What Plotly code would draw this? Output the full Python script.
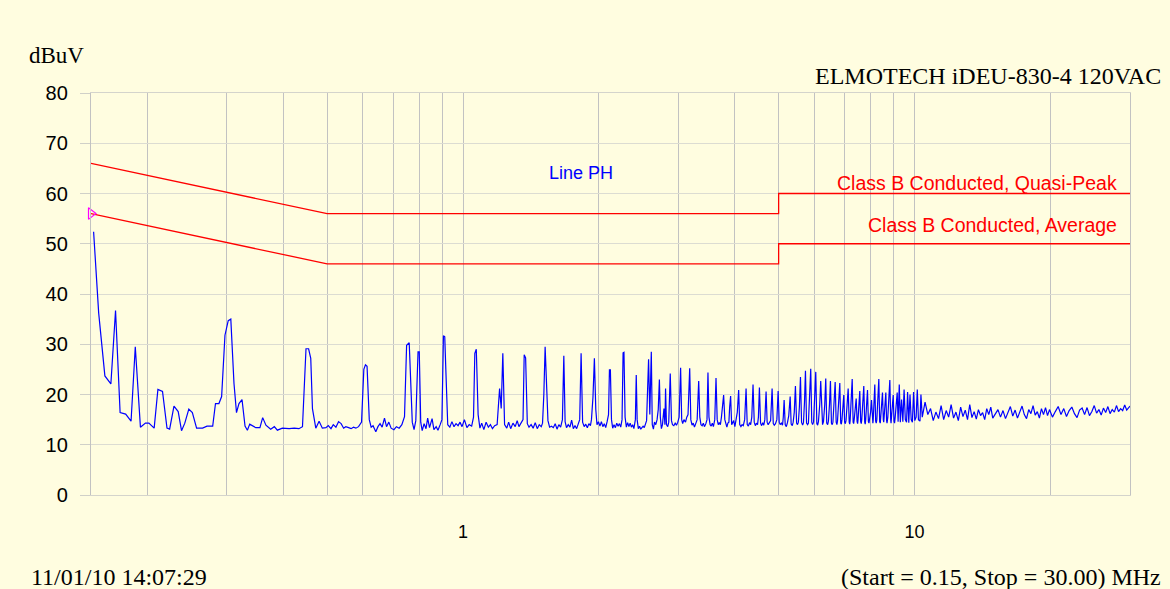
import math
import plotly.graph_objects as go

# ---------------- data ----------------
trace_mhz = [
    0.152, 0.156, 0.161, 0.166, 0.170, 0.174, 0.179, 0.184, 0.188, 0.193,
    0.198, 0.2015, 0.207, 0.211, 0.216, 0.221, 0.224, 0.229, 0.234, 0.238,
    0.242, 0.247, 0.2515, 0.257, 0.265, 0.271, 0.279, 0.283, 0.288, 0.292,
    0.297, 0.302, 0.306, 0.311, 0.315, 0.319, 0.324, 0.329, 0.333, 0.337,
    0.3475, 0.355, 0.360, 0.366, 0.375, 0.382, 0.388, 0.398, 0.412, 0.423,
    0.433, 0.441, 0.449, 0.455, 0.460, 0.464, 0.472, 0.480, 0.488, 0.497,
    0.503, 0.510, 0.516, 0.523, 0.530, 0.537, 0.544, 0.550, 0.558, 0.565,
    0.572, 0.579, 0.587, 0.596, 0.603, 0.608, 0.613, 0.620, 0.626, 0.632,
    0.641, 0.648, 0.655, 0.662, 0.670, 0.677, 0.685, 0.693, 0.703, 0.712,
    0.722, 0.732, 0.742, 0.750, 0.760, 0.767, 0.772, 0.779, 0.786, 0.795,
    0.800, 0.806, 0.812, 0.820, 0.828, 0.835, 0.843, 0.854, 0.862, 0.872,
    0.880, 0.890, 0.898, 0.905, 0.911, 0.916, 0.925, 0.935, 0.945, 0.955,
    0.965, 0.975, 0.985, 0.995, 1.007, 1.020, 1.032, 1.045, 1.055, 1.062,
    1.070, 1.080, 1.090, 1.100, 1.112, 1.125, 1.138, 1.150, 1.162, 1.175,
    1.190, 1.205, 1.215, 1.225, 1.236, 1.250, 1.262, 1.275, 1.290, 1.305,
    1.318, 1.330, 1.345, 1.358, 1.366, 1.376, 1.388, 1.400, 1.415, 1.430,
    1.445, 1.460, 1.475, 1.490, 1.500, 1.510, 1.520, 1.530, 1.542, 1.555,
    1.570, 1.585, 1.600, 1.615, 1.630, 1.645, 1.660, 1.672, 1.683, 1.695,
    1.710, 1.725, 1.740, 1.755, 1.770, 1.785, 1.800, 1.813, 1.826, 1.840,
    1.855, 1.870, 1.885, 1.900, 1.915, 1.925, 1.940, 1.954, 1.968, 1.980,
    1.995, 2.010, 2.025, 2.040, 2.055, 2.070, 2.085, 2.100, 2.110, 2.120,
    2.132, 2.145, 2.160, 2.175, 2.190, 2.205, 2.220, 2.235, 2.250, 2.262,
    2.272, 2.285, 2.300, 2.315, 2.330, 2.345, 2.360, 2.375, 2.390, 2.408,
    2.419, 2.430, 2.445, 2.460, 2.475, 2.490, 2.505, 2.520, 2.535, 2.550,
    2.576, 2.592, 2.612, 2.625, 2.640, 2.655, 2.672, 2.690, 2.706, 2.722,
    2.735, 2.750, 2.765, 2.786, 2.800, 2.809, 2.822, 2.840, 2.855, 2.877,
    2.895, 2.910, 2.930, 2.950, 2.970, 2.990, 3.010, 3.033, 3.050, 3.065,
    3.085, 3.110, 3.130, 3.150, 3.177, 3.195, 3.215, 3.235, 3.255, 3.280,
    3.300, 3.326, 3.345, 3.365, 3.385, 3.405, 3.425, 3.450, 3.470, 3.487,
    3.505, 3.525, 3.545, 3.565, 3.585, 3.610, 3.633, 3.655, 3.675, 3.695,
    3.715, 3.735, 3.755, 3.777, 3.800, 3.820, 3.840, 3.860, 3.880, 3.895,
    3.914, 3.935, 3.955, 3.975, 4.000, 4.020, 4.050, 4.078, 4.100, 4.125,
    4.150, 4.175, 4.205, 4.235, 4.260, 4.285, 4.310, 4.335, 4.360, 4.388,
    4.415, 4.440, 4.465, 4.490, 4.510, 4.533, 4.560, 4.585, 4.610, 4.635,
    4.660, 4.690, 4.715, 4.740, 4.770, 4.800, 4.836, 4.865, 4.890, 4.920,
    4.955, 4.987, 5.015, 5.040, 5.070, 5.100, 5.120, 5.142, 5.170, 5.200,
    5.230, 5.265, 5.303, 5.330, 5.360, 5.385, 5.415, 5.447, 5.480, 5.505,
    5.530, 5.558, 5.589, 5.620, 5.650, 5.675, 5.705, 5.733, 5.765, 5.795,
    5.820, 5.855, 5.889, 5.920, 5.945, 5.975, 6.010, 6.042, 6.075, 6.100,
    6.125, 6.166, 6.197, 6.230, 6.255, 6.285, 6.325, 6.358, 6.390, 6.420,
    6.445, 6.480, 6.512, 6.545, 6.570, 6.595, 6.637, 6.671, 6.705, 6.730,
    6.750, 6.795, 6.830, 6.862, 6.885, 6.906, 6.938, 6.970, 7.000, 7.025,
    7.050, 7.093, 7.128, 7.165, 7.185, 7.200, 7.240, 7.276, 7.310, 7.330,
    7.350, 7.391, 7.425, 7.460, 7.480, 7.495, 7.530, 7.563, 7.598, 7.620,
    7.640, 7.684, 7.719, 7.755, 7.775, 7.795, 7.830, 7.866, 7.902, 7.925,
    7.946, 7.992, 8.029, 8.066, 8.085, 8.100, 8.130, 8.165, 8.200, 8.225,
    8.250, 8.300, 8.334, 8.370, 8.395, 8.415, 8.458, 8.491, 8.527, 8.545,
    8.562, 8.602, 8.637, 8.671, 8.690, 8.725, 8.773, 8.815, 8.854, 8.870,
    8.890, 8.932, 8.969, 9.004, 9.030, 9.060, 9.110, 9.153, 9.195, 9.250,
    9.300, 9.360, 9.420, 9.480, 9.540, 9.600, 9.650, 9.710, 9.770, 9.830,
    9.890, 9.950, 10.01, 10.08, 10.14, 10.20, 10.28, 10.33, 10.40, 10.55,
    10.70, 10.85, 11.00, 11.15, 11.30, 11.45, 11.60, 11.75, 11.90, 12.05,
    12.20, 12.35, 12.50, 12.65, 12.80, 12.95, 13.10, 13.25, 13.40, 13.55,
    13.70, 13.85, 14.00, 14.15, 14.30, 14.45, 14.60, 14.75, 14.90, 15.10,
    15.30, 15.50, 15.70, 15.90, 16.10, 16.30, 16.50, 16.70, 16.90, 17.10,
    17.30, 17.50, 17.70, 17.90, 18.10, 18.30, 18.50, 18.70, 18.90, 19.10,
    19.30, 19.50, 19.70, 19.90, 20.20, 20.50, 20.80, 21.10, 21.40, 21.70,
    22.00, 22.30, 22.60, 22.90, 23.20, 23.50, 23.80, 24.10, 24.40, 24.70,
    25.00, 25.30, 25.60, 25.90, 26.20, 26.50, 26.80, 27.10, 27.40, 27.70,
    28.00, 28.30, 28.60, 28.90, 29.20, 29.50, 29.80, 30.00,
]

trace_dbuv = [
    52.4, 36.2, 23.7, 22.1, 36.7, 16.4, 16.1, 14.7, 29.5, 13.5,
    14.3, 14.3, 13.3, 21.0, 20.6, 13.3, 13.1, 17.7, 16.6, 12.8,
    14.3, 17.1, 16.4, 13.3, 13.3, 13.7, 13.7, 18.2, 18.2, 19.6,
    31.8, 34.7, 35.0, 22.2, 16.4, 18.2, 19.0, 13.7, 12.9, 14.1,
    13.4, 13.4, 15.4, 13.9, 13.1, 13.6, 12.9, 13.3, 13.2, 13.3,
    13.2, 13.6, 29.1, 29.1, 27.2, 17.2, 13.3, 14.7, 13.3, 13.4,
    13.8, 13.2, 14.0, 13.5, 14.6, 14.2, 13.3, 13.6, 13.4, 13.2,
    13.5, 13.3, 13.6, 14.5, 25.0, 25.9, 25.6, 15.0, 13.5, 13.8,
    12.6, 13.6, 14.2, 13.5, 15.3, 13.6, 14.5, 13.3, 13.0, 13.6,
    13.3, 14.0, 15.6, 29.8, 30.3, 22.0, 14.5, 13.0, 14.8, 28.5,
    28.5, 14.5, 12.8, 14.2, 13.2, 15.3, 13.4, 15.2, 13.0, 13.6,
    12.9, 14.0, 15.0, 31.7, 31.5, 25.0, 14.0, 13.5, 14.6, 13.6,
    14.2, 13.8, 14.5, 13.6, 15.0, 13.4, 14.0, 13.7, 15.5, 28.2,
    29.0, 16.0, 13.3, 14.3, 13.0, 14.5, 13.5, 14.0, 13.2, 13.8,
    14.0, 21.2, 17.2, 28.2, 14.0, 13.3, 14.5, 13.2, 14.3, 13.6,
    14.8, 13.6, 14.3, 15.0, 27.9, 27.3, 14.2, 13.5, 14.0, 13.3,
    14.4, 13.2, 14.0, 13.6, 14.3, 20.0, 29.5, 23.0, 14.8, 13.5,
    13.7, 13.4, 14.2, 13.1, 14.0, 13.5, 15.0, 27.7, 14.6, 13.4,
    14.0, 13.5, 14.9, 13.2, 13.8, 13.2, 14.0, 15.0, 28.2, 14.5,
    13.6, 14.1, 13.4, 14.2, 13.8, 15.0, 19.5, 27.2, 17.0, 14.0,
    14.6, 13.7, 14.6, 13.6, 14.2, 13.4, 14.6, 16.0, 24.9, 24.9,
    15.0, 13.3, 14.0, 13.4, 14.3, 13.7, 14.2, 13.5, 15.0, 28.3,
    28.4, 15.5, 13.5, 14.4, 13.6, 14.3, 13.5, 14.0, 13.2, 15.0,
    23.9, 15.0, 13.2, 13.7, 13.1, 13.5, 13.7, 13.4, 14.0, 14.8,
    27.0, 16.0, 28.5, 14.0, 13.1, 14.5, 14.0, 15.0, 17.0, 23.0,
    15.5, 13.2, 14.0, 17.2, 14.0, 21.2, 14.0, 13.6, 14.5, 24.2,
    14.8, 14.0, 13.8, 14.3, 13.9, 14.5, 15.5, 25.3, 15.0, 14.2,
    15.0, 14.5, 15.5, 16.0, 25.2, 15.0, 13.9, 14.3, 13.5, 14.2,
    15.0, 22.7, 15.5, 14.0, 13.8, 14.3, 13.6, 14.2, 15.0, 24.4,
    15.5, 14.0, 13.7, 14.3, 13.6, 15.0, 23.3, 15.0, 14.0, 14.4,
    14.0, 15.5, 18.5, 19.9, 15.0, 14.0, 13.5, 14.3, 14.5, 17.5,
    19.7, 14.0, 14.3, 14.8, 13.6, 14.5, 16.5, 20.9, 14.0, 13.6,
    14.0, 13.8, 15.0, 21.2, 14.0, 13.7, 14.4, 14.0, 15.5, 22.0,
    14.5, 13.8, 14.3, 14.0, 15.5, 21.4, 14.3, 13.8, 14.4, 13.9,
    15.0, 20.6, 14.5, 14.0, 14.3, 14.8, 21.2, 14.2, 13.9, 14.2,
    15.0, 20.7, 14.5, 14.0, 14.3, 13.9, 15.5, 18.9, 14.0, 13.6,
    14.4, 15.8, 19.6, 14.1, 13.8, 14.5, 16.5, 21.7, 14.3, 14.0,
    14.5, 17.5, 23.5, 14.5, 13.9, 14.4, 18.5, 24.7, 14.3, 14.0,
    14.3, 19.0, 25.1, 14.5, 14.0, 14.5, 19.0, 24.5, 14.2, 13.9,
    14.6, 18.0, 22.7, 14.3, 14.0, 14.6, 18.0, 23.2, 14.3, 14.0,
    14.7, 18.0, 22.7, 14.3, 14.0, 14.5, 18.0, 22.5, 14.5, 14.0,
    14.7, 18.0, 22.3, 14.3, 14.1, 15.0, 17.0, 19.9, 14.5, 14.2,
    14.8, 17.5, 21.2, 14.5, 14.1, 14.8, 18.5, 23.1, 14.5, 14.2,
    15.0, 17.0, 19.2, 14.6, 14.2, 15.0, 18.0, 20.7, 14.6, 14.2,
    15.0, 18.5, 21.7, 14.5, 14.1, 15.0, 17.5, 20.9, 14.6, 14.3,
    15.0, 16.5, 18.9, 14.6, 14.3, 15.0, 18.0, 22.0, 14.7, 14.3,
    15.0, 18.5, 23.1, 14.6, 14.3, 15.5, 17.5, 20.4, 15.0, 14.5,
    15.5, 17.5, 20.4, 14.8, 14.3, 15.5, 18.5, 22.9, 15.0, 14.3,
    15.5, 17.5, 19.9, 14.7, 14.3, 15.5, 18.0, 20.4, 14.6, 22.0,
    14.5, 19.0, 14.6, 21.0, 15.0, 14.5, 20.5, 14.4, 20.0, 15.0,
    14.5, 20.5, 14.8, 15.5, 21.0, 15.0, 14.7, 20.0, 15.5, 18.5,
    16.0, 17.2, 14.8, 16.5, 15.2, 17.8, 15.0, 16.8, 15.5, 18.0,
    15.3, 16.5, 14.8, 17.5, 15.6, 16.9, 15.0, 18.0, 15.4, 16.6,
    15.1, 17.0, 15.8, 16.4, 15.0, 17.2, 16.0, 17.5, 15.3, 16.2,
    17.0, 15.5, 16.8, 15.2, 16.6, 17.6, 15.7, 16.9, 15.3, 16.5,
    17.7, 16.0, 15.2, 17.0, 16.2, 17.8, 15.9, 16.6, 15.3, 17.2,
    16.0, 17.4, 15.8, 17.0, 15.5, 16.6, 17.6, 16.0, 17.2, 15.6,
    16.8, 17.5, 16.2, 15.4, 16.9, 17.3, 16.0, 17.4, 15.8, 16.6,
    17.8, 16.3, 17.0, 15.9, 17.3, 16.4, 17.6, 16.2, 17.0, 16.5,
    17.8, 16.6, 17.2, 16.8, 17.9, 16.9, 17.5, 17.7,
]

qp_mhz = [0.15, 0.5, 5.0, 5.0, 30.0]
qp_dbuv = [66, 56, 56, 60, 60]
avg_mhz = [0.15, 0.5, 5.0, 5.0, 30.0]
avg_dbuv = [56, 46, 46, 50, 50]
marker_mhz = [0.15]
marker_dbuv = [56]

grid_mhz = [0.2, 0.3, 0.4, 0.5, 0.6, 0.7, 0.8, 0.9, 1, 2, 3, 4, 5, 6, 7, 8, 9, 10, 20, 30]
labelled_mhz = {1: "1", 10: "10"}
y_ticks = [0, 10, 20, 30, 40, 50, 60, 70, 80]

# ---------------- figure ----------------
BG = "#FFFDE0"
SANS = "Liberation Sans, Arial, sans-serif"
SERIF = "Liberation Serif, Times New Roman, serif"

fig = go.Figure()
fig.add_trace(go.Scatter(x=qp_mhz, y=qp_dbuv, mode="lines",
                         line=dict(color="#FF0000", width=1.3), hoverinfo="skip"))
fig.add_trace(go.Scatter(x=avg_mhz, y=avg_dbuv, mode="lines",
                         line=dict(color="#FF0000", width=1.3), hoverinfo="skip"))
fig.add_trace(go.Scatter(x=trace_mhz, y=trace_dbuv, mode="lines",
                         line=dict(color="#0000FF", width=1.2)))
fig.add_trace(go.Scatter(x=marker_mhz, y=marker_dbuv, mode="markers",
                         marker=dict(symbol="triangle-right-open", size=10,
                                     color="#FF00FF", line=dict(width=1.2, color="#FF00FF")),
                         cliponaxis=False))

fig.update_layout(
    width=1170, height=589,
    margin=dict(l=91, r=40, t=93, b=94),
    paper_bgcolor=BG, plot_bgcolor=BG,
    showlegend=False,
    xaxis=dict(
        type="log",
        range=[math.log10(0.15), math.log10(30)],
        tickvals=grid_mhz,
        ticktext=[labelled_mhz.get(v, "") for v in grid_mhz],
        showgrid=True, gridcolor="#c2c2c2", gridwidth=1.3,
        ticks="", zeroline=False,
        showline=True, mirror=True, linecolor="#d4d4cc", linewidth=1,
        tickfont=dict(family=SANS, size=18, color="black"),
        ticklabelstandoff=20,
    ),
    yaxis=dict(
        range=[0, 80],
        tickvals=y_ticks,
        showgrid=True, gridcolor="#dcdcd2", gridwidth=1,
        ticks="outside", ticklen=10, tickcolor="#d0d0c8", tickwidth=1,
        zeroline=False,
        showline=True, mirror=True, linecolor="#c2c2c2", linewidth=1.3,
        tickfont=dict(family=SANS, size=20, color="black"),
        ticklabelstandoff=8,
    ),
    annotations=[
        dict(text="dBuV", xref="paper", yref="paper", x=-0.0616, y=1.0945,
             xanchor="left", yanchor="middle", showarrow=False,
             font=dict(family=SERIF, size=23, color="black")),
        dict(text="ELMOTECH iDEU-830-4 120VAC", xref="paper", yref="paper",
             x=1.0318, y=1.0435, xanchor="right", yanchor="middle", showarrow=False,
             font=dict(family=SERIF, size=24, color="black")),
        dict(text="Line PH", xref="paper", yref="paper", x=0.4716, y=0.802,
             xanchor="center", yanchor="middle", showarrow=False,
             font=dict(family=SANS, size=18, color="#0000FF")),
        dict(text="Class B Conducted, Quasi-Peak", xref="paper", yref="paper",
             x=0.9892, y=0.776, xanchor="right", yanchor="middle", showarrow=False,
             font=dict(family=SANS, size=19.5, color="#FF0000")),
        dict(text="Class B Conducted, Average", xref="paper", yref="paper",
             x=0.9892, y=0.6716, xanchor="right", yanchor="middle", showarrow=False,
             font=dict(family=SANS, size=19.5, color="#FF0000")),
        dict(text="11/01/10 14:07:29", xref="paper", yref="paper", x=-0.0597, y=-0.204,
             xanchor="left", yanchor="middle", showarrow=False,
             font=dict(family=SERIF, size=24, color="black")),
        dict(text="(Start = 0.15, Stop = 30.00) MHz", xref="paper", yref="paper",
             x=1.0318, y=-0.204, xanchor="right", yanchor="middle", showarrow=False,
             font=dict(family=SERIF, size=24, color="black")),
    ],
)

fig.write_html(
    "out.html",
    config={"displayModeBar": False},
    post_script="document.documentElement.style.margin='0';"
                "document.body.style.margin='0';"
                "document.body.style.overflow='hidden';",
)
